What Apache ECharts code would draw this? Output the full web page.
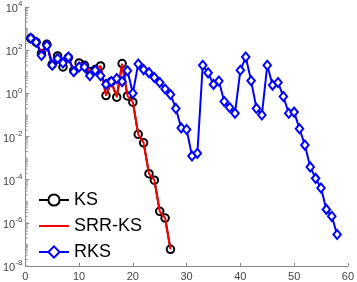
<!DOCTYPE html>
<html>
<head>
<meta charset="utf-8">
<script src="https://cdn.jsdelivr.net/npm/echarts@6/dist/echarts.min.js"></script>
<style>html,body{margin:0;padding:0;background:#fff}#c{width:357px;height:282px}</style>
</head>
<body>
<div id="c"></div>
<script>
const ksX = [1,2,3,4,5,6,7,8,9,10,11,12,13,14,15,16,17,18,19,20,21,22,23,24,25,26,27];
const ksY = [355,234,71,186,22,54,16.6,45,11.2,25.7,20,10,12.6,18.6,0.79,3.5,0.66,24,0.76,0.39,0.0126,0.0051,1.9e-4,9.5e-5,3.4e-6,1.66e-6,5.9e-8];
const srrY = [355,234,71,186,22,54,16.6,45,11.2,25.7,20,10,12.6,18.6,0.79,3.5,0.66,24,0.76,0.39,0.0126,0.0051,1.9e-4,9.5e-5,3.4e-6,1.66e-6,5.9e-8];
const rksX = [1,2,3,4,5,6,7,8,9,10,11,12,13,14,15,16,17,18,19,20,21,22,23,24,25,26,27,28,29,30,31,32,33,34,35,36,37,38,39,40,41,42,43,44,45,46,47,48,49,50,51,52,53,54,55,56,57,58];
const rksY = [355,234,57,166,20,41,25.7,48,10,16.6,16.6,6.5,11.7,6.5,2.6,3.5,4.9,3.5,11.2,1.0,23,12.6,9.1,5.4,3.2,1.6,0.89,0.2,0.025,0.021,1.26e-3,1.66e-3,20,8.9,2.6,3.7,0.42,0.22,0.12,11.7,48,3.8,0.2,0.1,20,2.4,3.2,0.71,0.12,0.135,0.023,4e-3,3.9e-4,1.15e-4,4.1e-5,4.2e-6,2e-6,2.9e-7];
const xTicks = [0,10,20,30,40,50,60];
const yDecades = [-8,-7,-6,-5,-4,-3,-2,-1,0,1,2,3];
const yMantissas = [1,2,3,4,5,6,7,8,9];

const minorVals = [];
yDecades.forEach(d => yMantissas.forEach(m => minorVals.push([0, m * Math.pow(10, d)])));

const pair = (xs, ys) => xs.map((x, i) => [x, ys[i]]);
const FONT = 'Liberation Sans, Arial, sans-serif';

const chart = echarts.init(document.getElementById('c'), null, {renderer: 'canvas'});
chart.setOption({
  animation: false,
  backgroundColor: '#fff',
  grid: {left: 22, right: 5, top: 4.5, bottom: 16, containLabel: false},
  legend: {
    data: [
      {name: 'KS'},
      {name: 'SRR-KS', itemStyle: {color: 'rgba(0,0,0,0)', borderWidth: 0, opacity: 0}},
      {name: 'RKS'}
    ],
    orient: 'vertical',
    left: 33,
    top: 186,
    itemWidth: 30,
    itemHeight: 14,
    itemGap: 8,
    textStyle: {fontFamily: FONT, fontSize: 18, color: '#000'},
    selectedMode: false
  },
  xAxis: {
    type: 'value', min: 0, max: 60, interval: 10,
    axisLine: {show: true, lineStyle: {color: '#888', width: 1}},
    axisTick: {show: true, inside: true, length: 3, lineStyle: {color: '#888'}},
    axisLabel: {fontFamily: FONT, fontSize: 11, color: '#444', margin: 5,
      formatter: v => xTicks.indexOf(v) >= 0 ? String(v) : ''},
    splitLine: {show: false}
  },
  yAxis: {
    type: 'log', logBase: 10, min: 1e-8, max: 1e4, interval: 2,
    axisLine: {show: true, lineStyle: {color: '#888', width: 1}},
    axisTick: {show: true, inside: true, length: 4, lineStyle: {color: '#888'}},
    axisLabel: {
      fontFamily: FONT, color: '#444', margin: 3,
      formatter: v => {
        const e = Math.round(Math.log10(v));
        return '{b|10}{s|' + e + '}';
      },
      rich: {
        b: {fontFamily: FONT, fontSize: 11, color: '#444', padding: [4, 0, 0, 0]},
        s: {fontFamily: FONT, fontSize: 8, color: '#444', padding: [0, 0, 6, 0]}
      }
    },
    splitLine: {show: false}
  },
  series: [
    {
      type: 'custom', name: 'minor', silent: true, z: 1,
      data: minorVals,
      renderItem: (params, api) => {
        const p = api.coord([api.value(0), api.value(1)]);
        return {type: 'line', shape: {x1: p[0], y1: p[1], x2: p[0] + 2.5, y2: p[1]},
          style: {stroke: '#999', lineWidth: 1}};
      }
    },
    {
      name: 'KS', type: 'line', data: pair(ksX, ksY),
      symbol: 'circle', symbolSize: 7.5, showSymbol: true,
      lineStyle: {color: '#000', width: 2},
      itemStyle: {color: '#fff', borderColor: '#000', borderWidth: 2},
      color: '#000', z: 2
    },
    {
      name: 'SRR-KS', type: 'line', data: pair(ksX, srrY),
      symbol: 'none',
      lineStyle: {color: '#f00', width: 2},
      color: '#f00', z: 3
    },
    {
      name: 'RKS', type: 'line', data: pair(rksX, rksY),
      symbol: 'diamond', symbolSize: [7.5, 9], showSymbol: true,
      lineStyle: {color: '#00f', width: 2},
      itemStyle: {color: '#fff', borderColor: '#00f', borderWidth: 2},
      color: '#00f', z: 4
    }
  ]
});
</script>
</body>
</html>
